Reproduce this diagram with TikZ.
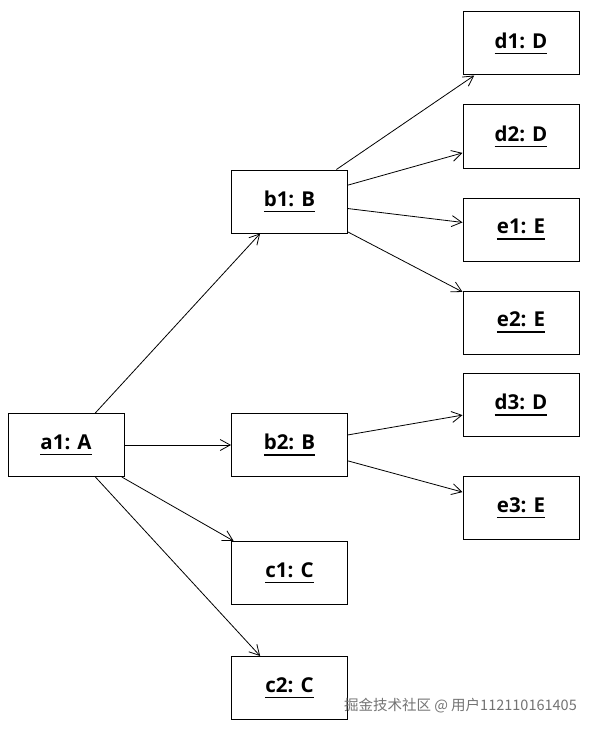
\documentclass[tikz,border=0pt]{standalone}
\usepackage{fontspec}
\setmainfont{Open Sans}
\newfontfamily\cjk{Noto Sans CJK SC}
\usetikzlibrary{arrows.meta}
\newcommand\uln[1]{\setbox0\hbox{#1}\leavevmode\raisebox{2.5pt}{\rlap{\raisebox{-6pt}{\rule{\wd0}{1.5pt}}}\box0}}
\tikzset{
  obj/.style={draw, line width=1pt, minimum width=116pt, minimum height=63pt, inner sep=0pt,
    font=\fontsize{20.5}{24}\selectfont\bfseries},
  link/.style={line width=0.8pt, -{Straight Barb[length=10pt,width=11pt,line width=0.8pt]}},
}
\begin{document}
\begin{tikzpicture}[x=1pt,y=-1pt]
\useasboundingbox (0,0) rectangle (594,733);
\node[obj] (a1) at (66,445) {\uln{a1: A}};
\node[obj] (b1) at (289.5,201.5) {\uln{b1: B}};
\node[obj] (b2) at (289.5,445) {\uln{b2: B}};
\node[obj] (c1) at (289.5,573) {\uln{c1: C}};
\node[obj] (c2) at (289.5,688) {\uln{c2: C}};
\node[obj] (d1) at (521,43.5) {\uln{d1: D}};
\node[obj] (d2) at (521,136.5) {\uln{d2: D}};
\node[obj] (e1) at (521,229.5) {\uln{e1: E}};
\node[obj] (e2) at (521,322.5) {\uln{e2: E}};
\node[obj] (d3) at (521,405) {\uln{d3: D}};
\node[obj] (e3) at (521,508) {\uln{e3: E}};
\draw[link] (a1) -- (b1);
\draw[link] (a1) -- (b2);
\draw[link] (a1) -- (c1);
\draw[link] (a1) -- (c2);
\draw[link] (b1) -- (d1);
\draw[link] (b1) -- (d2);
\draw[link] (b1) -- (e1);
\draw[link] (b1) -- (e2);
\draw[link] (b2) -- (d3);
\draw[link] (b2) -- (e3);
\node[anchor=east, inner sep=0pt, text=black!55, font=\cjk\fontsize{14.5}{16}\selectfont] (wm) at (577,706) {掘金技术社区 @ 用户112110161405};
\end{tikzpicture}
\end{document}
